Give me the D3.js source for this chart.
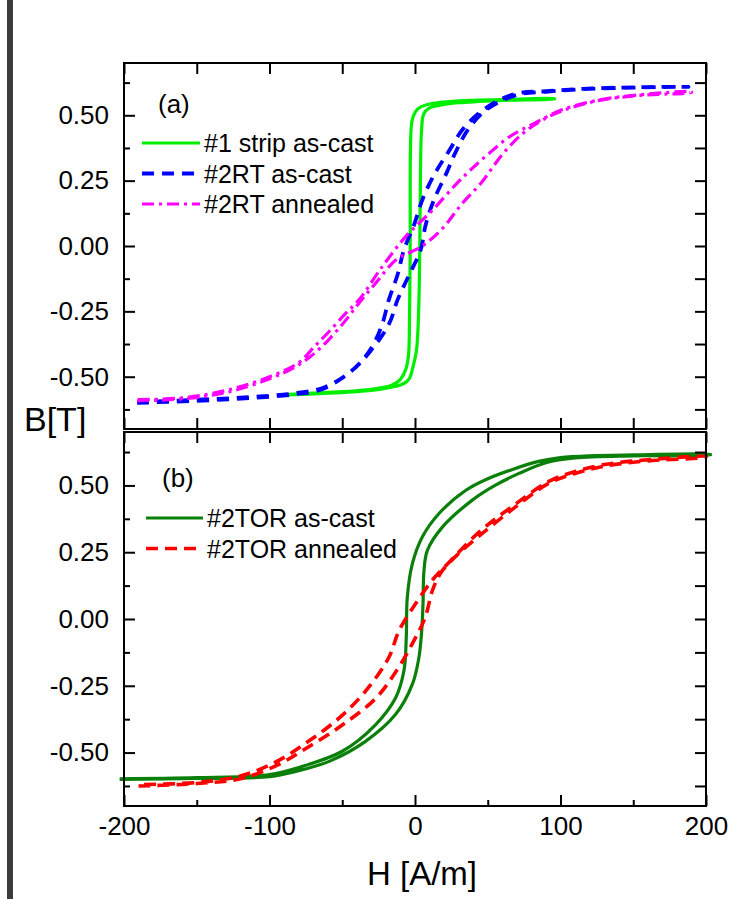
<!DOCTYPE html>
<html>
<head>
<meta charset="utf-8">
<script src="https://cdn.jsdelivr.net/npm/d3@7"></script>
<style>
  body { margin: 0; background: #fff; }
  svg { display: block; font-family: "Liberation Sans", Arial, sans-serif; }
</style>
</head>
<body>
<div id="chart"></div>
<script>
// axis ticks
const hTicks = [-200, -100, 0, 100, 200];
const hMinor = [-150, -50, 50, 150];
const bTicks = [-0.5, -0.25, 0, 0.25, 0.5];
const bMinor = [-0.625, -0.375, -0.125, 0.125, 0.375, 0.625];

// panel (a): [H, B] points, ascending branch then descending branch
const stripUp = [[-93,-0.571],[-60,-0.563],[-30,-0.552],[-16,-0.54],[-8,-0.527],[-4,-0.508],[-1.5,-0.465],[1,-0.4],[2.5,-0.25],[3.3,0],[3.8,0.3],[4.5,0.44],[6,0.505],[10,0.528],[16.5,0.538],[30,0.548],[60,0.557],[96,0.563]];
const stripDown = [[96,0.564],[60,0.56],[30,0.555],[12,0.545],[4,0.532],[0.5,0.515],[-2,0.48],[-3,0.4],[-3.3,0],[-3.8,-0.3],[-4.5,-0.42],[-6.4,-0.473],[-10,-0.51],[-16,-0.533],[-30,-0.548],[-60,-0.56],[-93,-0.569]];

const rtUp = [[-191,-0.6],[-150,-0.592],[-114,-0.582],[-82,-0.567],[-64,-0.548],[-44,-0.48],[-31,-0.405],[-18,-0.3],[-12,-0.206],[-4,-0.11],[3.9,-0.015],[7.3,0.08],[13,0.176],[21,0.271],[28,0.36],[37,0.45],[50,0.525],[70,0.578],[90,0.59],[115,0.6],[150,0.606],[188,0.609]];
const rtDown = [[188,0.609],[150,0.607],[115,0.601],[90,0.592],[70,0.583],[52,0.54],[34,0.455],[23,0.36],[13,0.271],[5,0.176],[-0.7,0.08],[-7.6,-0.015],[-12,-0.11],[-18,-0.206],[-22.6,-0.3],[-30,-0.39],[-42,-0.47],[-62,-0.54],[-82,-0.563],[-114,-0.578],[-150,-0.588],[-191,-0.597]];

const raUp = [[-191,-0.592],[-158,-0.584],[-128,-0.558],[-100,-0.508],[-80,-0.455],[-65,-0.39],[-50,-0.3],[-38,-0.215],[-27,-0.142],[-13,-0.053],[5,0.0],[19,0.068],[32,0.16],[46,0.245],[60,0.35],[74,0.43],[87,0.48],[101,0.517],[126,0.556],[154,0.576],[190,0.588]];
const raDown = [[190,0.59],[154,0.578],[126,0.558],[101,0.521],[83,0.472],[65,0.418],[50,0.35],[38,0.29],[28,0.235],[12,0.137],[-6.4,0.036],[-22.5,-0.079],[-38.5,-0.206],[-48,-0.26],[-59,-0.327],[-70,-0.39],[-80,-0.447],[-100,-0.5],[-128,-0.55],[-158,-0.58],[-191,-0.588]];

// panel (b)
const torUp = [[-203,-0.6],[-150,-0.597],[-100,-0.59],[-80,-0.568],[-59,-0.533],[-34,-0.458],[-13.3,-0.357],[-1.8,-0.244],[2.7,-0.144],[4.6,-0.044],[5.5,0.056],[6.2,0.182],[8.5,0.257],[18.8,0.344],[39.4,0.445],[55,0.5],[71.5,0.545],[90,0.585],[110,0.603],[150,0.611],[203,0.614]];
const torDown = [[203,0.616],[150,0.614],[120,0.611],[100,0.604],[85,0.59],[67,0.56],[50,0.525],[35,0.482],[16.5,0.395],[5,0.307],[-1.8,0.207],[-5.3,0.081],[-6,-0.069],[-7.6,-0.194],[-13.3,-0.295],[-27,-0.395],[-50,-0.495],[-80,-0.556],[-100,-0.582],[-150,-0.594],[-203,-0.598]];

const taUp = [[-190,-0.625],[-150,-0.616],[-120,-0.598],[-95,-0.548],[-75,-0.485],[-50,-0.397],[-27,-0.297],[-13,-0.196],[-2,-0.094],[7,0.006],[12,0.107],[18,0.175],[30,0.245],[45,0.315],[68,0.415],[92,0.508],[110,0.545],[130,0.572],[160,0.592],[200,0.606]];
const taDown = [[200,0.608],[160,0.596],[130,0.578],[110,0.552],[92,0.515],[67,0.422],[44,0.325],[23,0.21],[12,0.146],[0.5,0.058],[-11,-0.044],[-18,-0.144],[-34,-0.27],[-52,-0.37],[-73,-0.457],[-95,-0.533],[-120,-0.588],[-150,-0.612],[-190,-0.62]];

const svg = d3.select('#chart').append('svg').attr('width', 729).attr('height', 899);

// dark bar at the left edge
svg.append('rect').attr('x', 7).attr('y', 0).attr('width', 6).attr('height', 899).attr('fill', '#3c3c3c');

const x = d3.scaleLinear().domain([-200, 200]).range([124, 706]);

const panels = [
  {
    y: d3.scaleLinear().domain([-0.7, 0.7]).range([429, 63]),
    tag: '(a)', tagPos: [158, 113], xLabels: false, bottomMinorShort: false,
    series: [
      { up: stripUp, down: stripDown, color: '#00ee00', dash: null, width: 3.2, name: '#1 strip as-cast' },
      { up: rtUp, down: rtDown, color: '#0000ff', dash: '12,8', width: 3.8, name: '#2RT as-cast' },
      { up: raUp, down: raDown, color: '#ff00ff', dash: '12,5,3,5', width: 3.2, name: '#2RT annealed' },
    ],
    legend: { x1: 142, x2: 200, y0: 143, step: 30.5 },
  },
  {
    y: d3.scaleLinear().domain([-0.7, 0.7]).range([806, 432]),
    tag: '(b)', tagPos: [162, 487], xLabels: true, bottomMinorShort: true,
    series: [
      { up: torUp, down: torDown, color: '#0a800a', dash: null, width: 3.2, name: '#2TOR as-cast' },
      { up: taUp, down: taDown, color: '#ff0000', dash: '12,7', width: 3.6, name: '#2TOR annealed' },
    ],
    legend: { x1: 146, x2: 203, y0: 518, step: 30.5 },
  },
];

const fmtB = d => d.toFixed(2);

panels.forEach(p => {
  const y = p.y;
  const [x0, x1] = x.range();
  const [y0, y1] = y.range();
  const g = svg.append('g');

  // curves
  const line = d3.line().x(d => x(d[0])).y(d => y(d[1])).curve(d3.curveCatmullRom.alpha(0.5));
  p.series.forEach(s => {
    g.append('path')
      .attr('d', line(s.up.concat(s.down)))
      .attr('fill', 'none')
      .attr('stroke', s.color)
      .attr('stroke-width', s.width)
      .attr('stroke-dasharray', s.dash)
      .attr('stroke-linejoin', 'round');
  });

  // frame
  g.append('rect')
    .attr('x', x0).attr('y', y1).attr('width', x1 - x0).attr('height', y0 - y1)
    .attr('fill', 'none').attr('stroke', '#000').attr('stroke-width', 2);

  const tickG = (axis, tr) => {
    const a = g.append('g').attr('transform', tr).call(axis);
    a.select('.domain').remove();
    a.selectAll('line').attr('stroke-width', 2);
    return a;
  };

  // left: labelled majors, short minors
  const left = tickG(d3.axisLeft(y).tickValues(bTicks).tickSize(-11).tickPadding(15).tickFormat(fmtB), `translate(${x0},0)`);
  left.selectAll('text').attr('font-size', 26).attr('fill', '#000').attr('font-family', 'Liberation Sans, Arial, sans-serif');
  tickG(d3.axisLeft(y).tickValues(bMinor).tickSize(-6).tickFormat(''), `translate(${x0},0)`);

  // right and top: all ticks long
  tickG(d3.axisRight(y).tickValues(bTicks.concat(bMinor)).tickSize(-11).tickFormat(''), `translate(${x1},0)`);
  tickG(d3.axisTop(x).tickValues(hTicks.concat(hMinor)).tickSize(-11).tickFormat(''), `translate(0,${y1})`);

  // bottom
  const bottom = tickG(d3.axisBottom(x).tickValues(hTicks).tickSize(-11).tickPadding(11).tickFormat(p.xLabels ? d3.format('d') : ''), `translate(0,${y0})`);
  bottom.selectAll('text').attr('font-size', 26).attr('fill', '#000').attr('font-family', 'Liberation Sans, Arial, sans-serif')
    .text(d => (p.xLabels ? String(d) : ''));
  tickG(d3.axisBottom(x).tickValues(hMinor).tickSize(p.bottomMinorShort ? -6 : -11).tickFormat(''), `translate(0,${y0})`);

  // panel tag
  g.append('text').attr('x', p.tagPos[0]).attr('y', p.tagPos[1]).attr('font-size', 26).text(p.tag);

  // legend
  const L = p.legend;
  p.series.forEach((s, i) => {
    const ly = L.y0 + i * L.step;
    g.append('line')
      .attr('x1', L.x1).attr('x2', L.x2).attr('y1', ly).attr('y2', ly)
      .attr('stroke', s.color).attr('stroke-width', s.width).attr('stroke-dasharray', s.dash);
    g.append('text').attr('x', L.x2 + 4).attr('y', ly + 9).attr('font-size', 25).text(s.name);
  });
});

// axis titles
svg.append('text').attr('x', 24).attr('y', 431).attr('font-size', 34).text('B[T]');
svg.append('text').attr('x', 422).attr('y', 885).attr('text-anchor', 'middle').attr('font-size', 33).text('H [A/m]');
</script>
</body>
</html>
